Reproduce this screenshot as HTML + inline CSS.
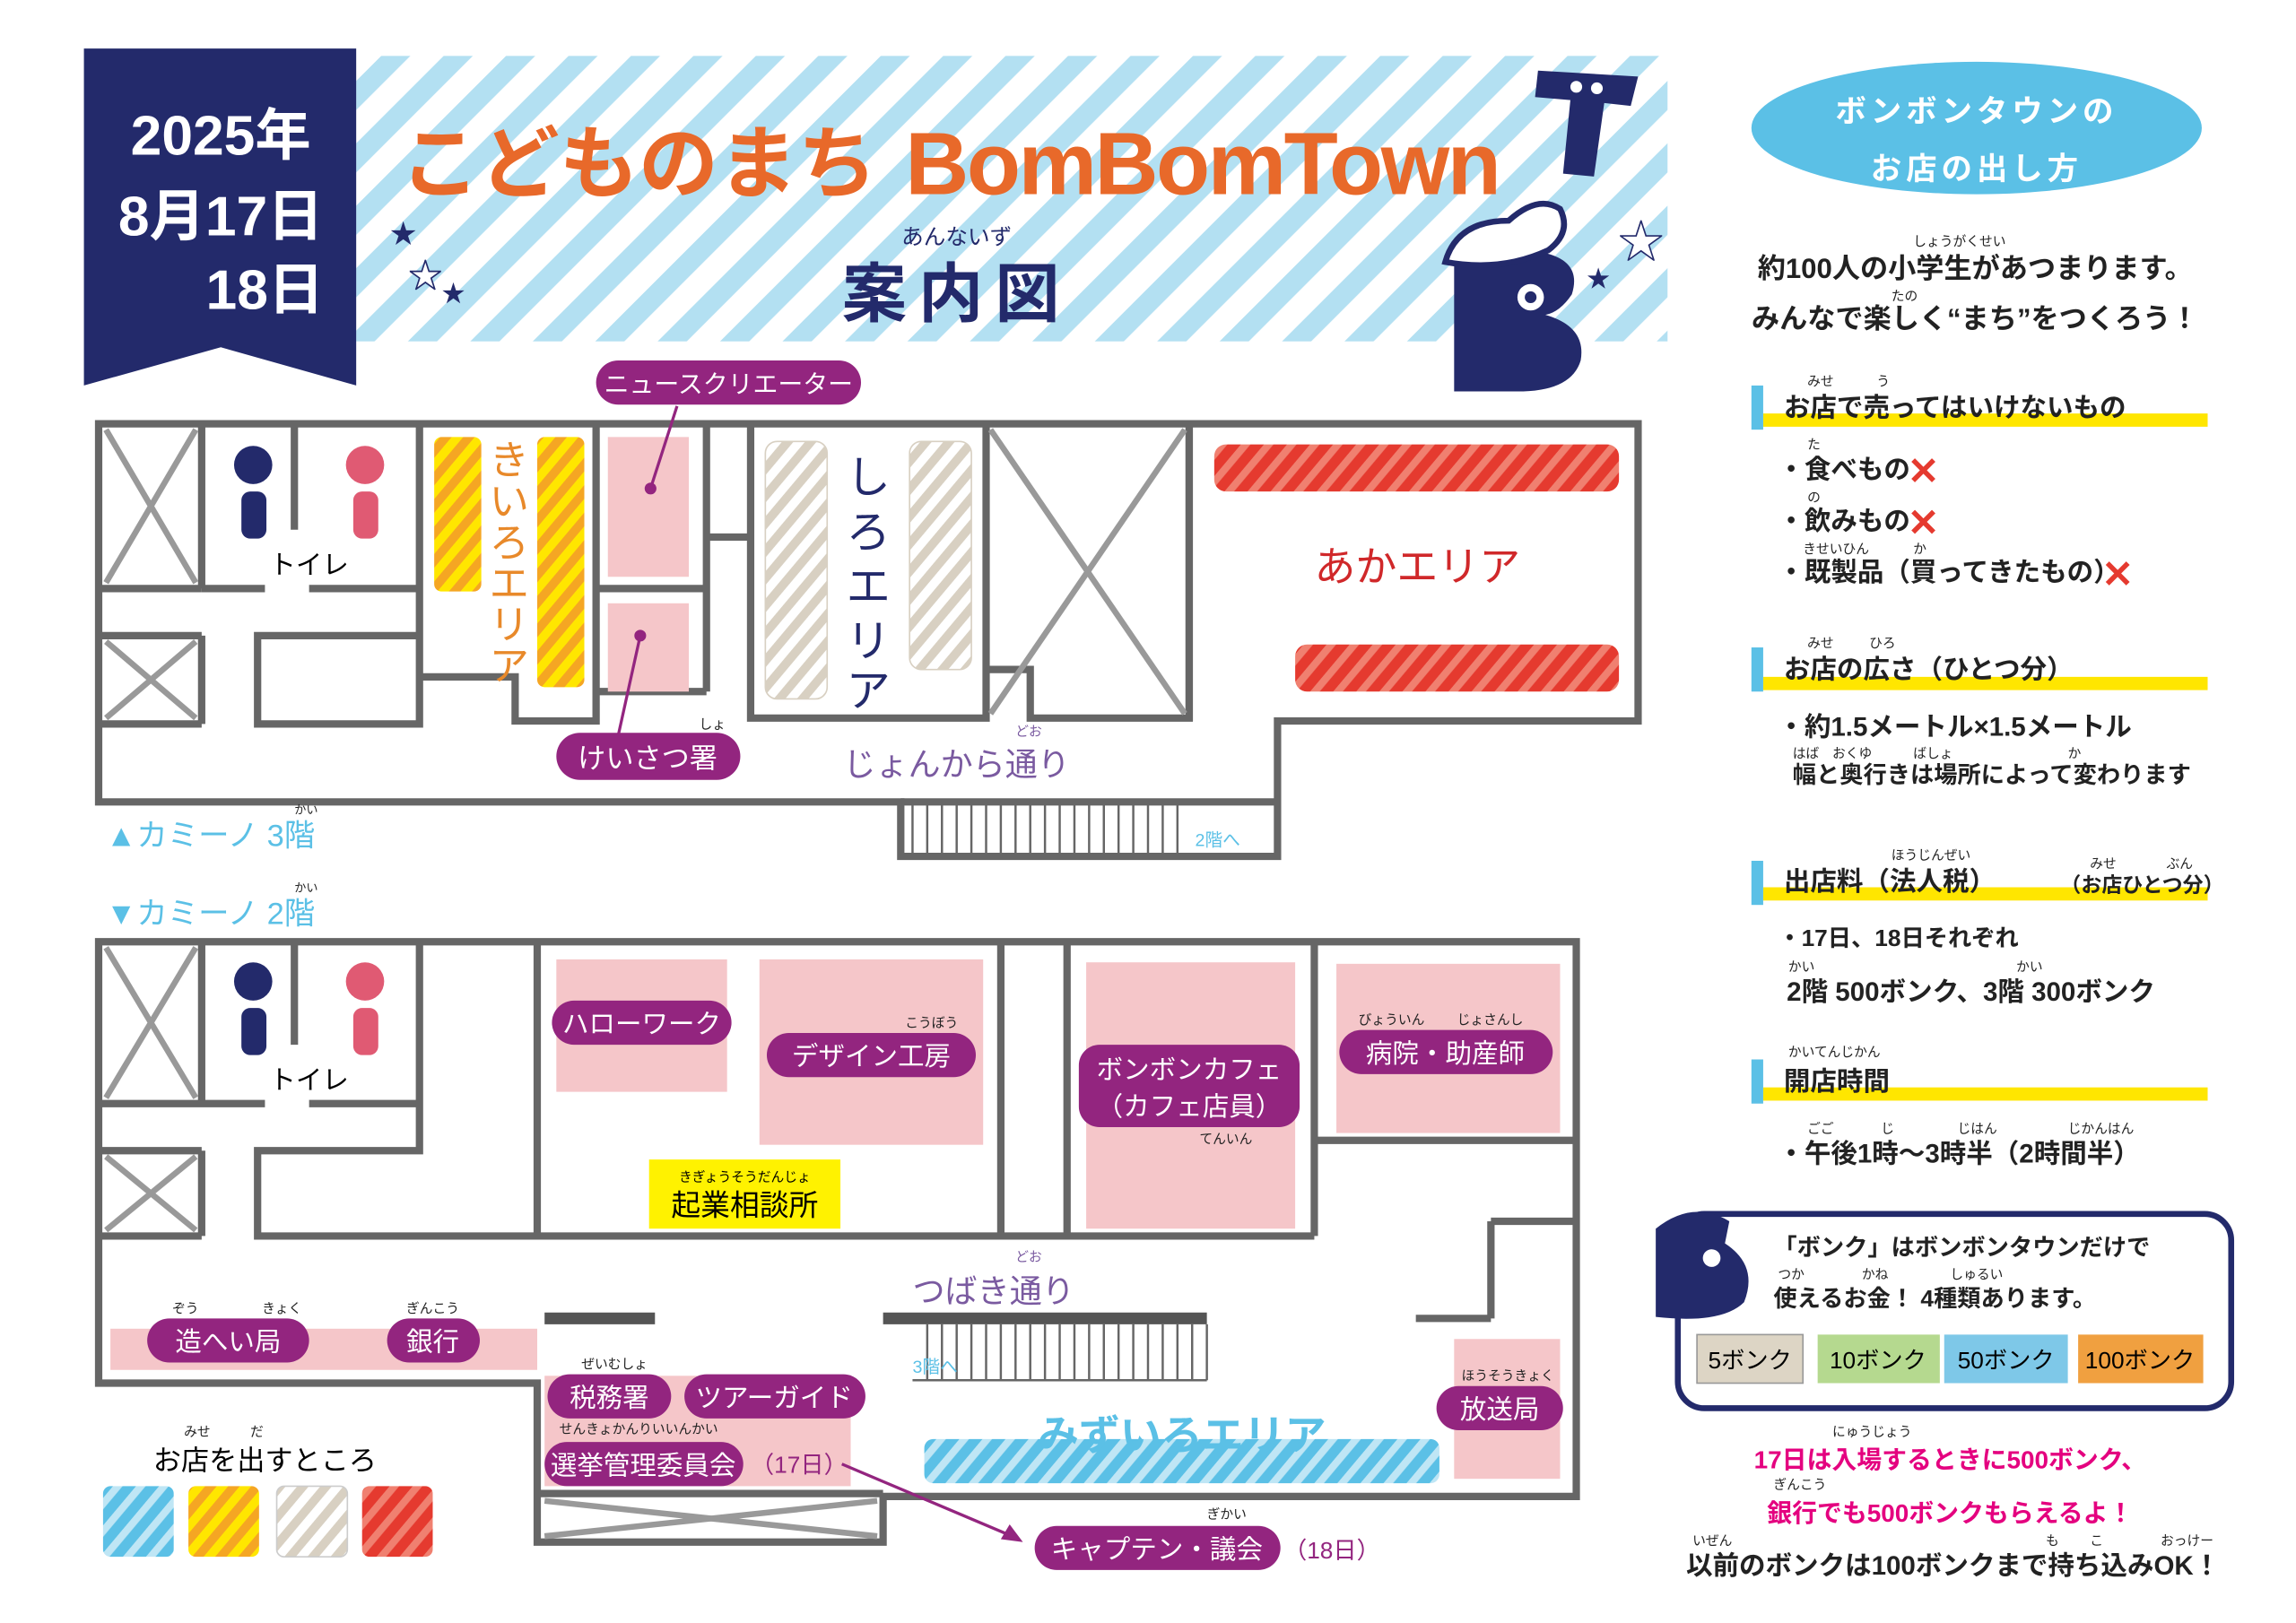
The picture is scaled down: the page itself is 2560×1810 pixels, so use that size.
<!DOCTYPE html>
<html><head><meta charset="utf-8"><style>
html,body{margin:0;padding:0;background:#fff;}
svg{display:block;}
text{font-family:"Liberation Sans","Noto Sans CJK JP",sans-serif;}
</style></head><body>
<svg width="2560" height="1810" viewBox="0 0 1560 1103" xmlns="http://www.w3.org/2000/svg">
<defs>
<pattern id="hs" width="30" height="30" patternUnits="userSpaceOnUse" patternTransform="rotate(45)"><rect width="30" height="30" fill="#fff"/><rect width="14" height="30" fill="#b3e0f2"/></pattern>
<pattern id="py" width="12" height="12" patternUnits="userSpaceOnUse" patternTransform="rotate(40)"><rect width="12" height="12" fill="#ffe600"/><rect width="6" height="12" fill="#f5a623"/></pattern>
<pattern id="pw" width="12" height="12" patternUnits="userSpaceOnUse" patternTransform="rotate(40)"><rect width="12" height="12" fill="#fff"/><rect width="6" height="12" fill="#d8d0c2"/></pattern>
<pattern id="pr" width="12" height="12" patternUnits="userSpaceOnUse" patternTransform="rotate(40)"><rect width="12" height="12" fill="#e53a2f"/><rect width="5" height="12" fill="#f08070"/></pattern>
<pattern id="pb" width="12" height="12" patternUnits="userSpaceOnUse" patternTransform="rotate(40)"><rect width="12" height="12" fill="#5bc0e6"/><rect width="5" height="12" fill="#bfe6f5"/></pattern>
</defs>

<!-- header -->
<rect x="242" y="38" width="891" height="194" fill="url(#hs)"/>
<polygon points="57,33 242,33 242,262 150,236 57,262" fill="#232a6b"/>
<text x="150" y="105" font-size="38" fill="#fff" text-anchor="middle" font-weight="bold">2025年</text>
<text x="150" y="160" font-size="38" fill="#fff" text-anchor="middle" font-weight="bold">8月17日</text>
<text x="180" y="210" font-size="38" fill="#fff" text-anchor="middle" font-weight="bold">18日</text>
<text x="272" y="130" font-size="54" fill="#e8692a" font-weight="bold">こどものまち</text>
<text x="615" y="132" font-size="60" fill="#e8692a" font-weight="bold" font-family="Liberation Sans" textLength="405">BomBomTown</text>
<text x="650" y="166" font-size="15" fill="#232a6b" text-anchor="middle">あんないず</text>
<text x="650" y="215" font-size="44" fill="#232a6b" text-anchor="middle" font-weight="bold" letter-spacing="8">案内図</text>
<text x="265" y="165" font-size="18" fill="#232a6b">★</text><text x="278" y="195" font-size="22" fill="#fff" stroke="#232a6b" stroke-width="1">★</text><text x="300" y="205" font-size="16" fill="#232a6b">★</text>
<text x="1100" y="175" font-size="30" fill="#fff" stroke="#232a6b" stroke-width="1">★</text><text x="1078" y="195" font-size="16" fill="#232a6b">★</text>
<!-- T -->
<path d="M1045 48 L1113 52 L1108 72 L1090 70 L1083 120 L1062 118 L1067 68 L1043 66 Z" fill="#232a6b"/>
<circle cx="1071" cy="59" r="4" fill="#fff"/><circle cx="1085" cy="60" r="4" fill="#fff"/>
<!-- B -->
<path d="M988 180 L1050 172 Q1075 178 1068 200 Q1060 212 1050 214 Q1078 222 1074 245 Q1068 265 1035 266 L988 266 Z" fill="#232a6b"/>
<path d="M982 178 Q990 150 1025 150 Q1045 132 1060 142 Q1068 158 1052 170 Q1020 185 982 178 Z" fill="#fff" stroke="#232a6b" stroke-width="4"/>
<circle cx="1040" cy="202" r="9" fill="#fff"/><circle cx="1040" cy="202" r="4" fill="#232a6b"/>

<!-- right panel -->
<ellipse cx="1343" cy="87" rx="153" ry="45" fill="#5bc0e6"/>
<text x="1343" y="83" font-size="21" fill="#fff" text-anchor="middle" font-weight="bold" letter-spacing="3">ボンボンタウンの</text>
<text x="1343" y="122" font-size="21" fill="#fff" text-anchor="middle" font-weight="bold" letter-spacing="3">お店の出し方</text>
<g font-size="9" fill="#222"><text x="1300" y="167">しょうがくせい</text><text x="1285" y="204">たの</text></g>
<g font-size="19" fill="#222" font-weight="bold">
<text x="1342" y="189" text-anchor="middle">約100人の小学生があつまります。</text>
<text x="1342" y="223" text-anchor="middle">みんなで楽しく“まち”をつくろう！</text>
</g>
<g fill="#ffe600"><rect x="1198" y="281" width="302" height="9"/><rect x="1198" y="460" width="302" height="9"/><rect x="1198" y="603" width="302" height="9"/><rect x="1198" y="739" width="302" height="9"/></g>
<g fill="#5bc0e6"><rect x="1190" y="262" width="8" height="30"/><rect x="1190" y="440" width="8" height="30"/><rect x="1190" y="585" width="8" height="30"/><rect x="1190" y="720" width="8" height="30"/></g>
<g font-size="9" fill="#222"><text x="1228" y="262">みせ</text><text x="1275" y="262">う</text><text x="1228" y="305">た</text><text x="1228" y="341">の</text><text x="1225" y="376">きせいひん</text><text x="1300" y="376">か</text><text x="1228" y="440">みせ</text><text x="1270" y="440">ひろ</text><text x="1218" y="515">はば</text><text x="1245" y="515">おくゆ</text><text x="1300" y="515">ばしょ</text><text x="1405" y="515">か</text><text x="1285" y="584">ほうじんぜい</text><text x="1420" y="590">みせ</text><text x="1472" y="590">ぶん</text><text x="1215" y="660">かい</text><text x="1370" y="660">かい</text><text x="1215" y="718">かいてんじかん</text><text x="1228" y="770">ごご</text><text x="1278" y="770">じ</text><text x="1330" y="770">じはん</text><text x="1405" y="770">じかんはん</text></g>
<g font-size="18" fill="#222" font-weight="bold">
<text x="1212" y="283">お店で売ってはいけないもの</text>
<text x="1208" y="325">・食べもの</text><text x="1208" y="360">・飲みもの</text><text x="1208" y="395">・既製品（買ってきたもの）</text>
<text x="1212" y="461">お店の広さ（ひとつ分）</text>
<text x="1208" y="500">・約1.5メートル×1.5メートル</text>
<text x="1218" y="532" font-size="16">幅と奥行きは場所によって変わります</text>
<text x="1212" y="605">出店料（法人税）</text><text x="1400" y="606" font-size="14">（お店ひとつ分）</text>
<text x="1208" y="643" font-size="16">・17日、18日それぞれ</text>
<text x="1214" y="680">2階 500ボンク、3階 300ボンク</text>
<text x="1212" y="741">開店時間</text>
<text x="1208" y="790">・午後1時～3時半（2時間半）</text>
</g>
<g fill="#e53a2f" font-size="26" font-weight="bold"><text x="1296" y="329">✕</text><text x="1296" y="364">✕</text><text x="1428" y="399">✕</text></g>
<rect x="1140" y="825" width="376" height="132" rx="18" fill="#fff" stroke="#232a6b" stroke-width="4"/>
<path d="M1125 835 Q1150 815 1175 830 L1172 845 Q1195 860 1185 885 Q1170 900 1125 895 Z" fill="#232a6b"/>
<circle cx="1163" cy="855" r="6" fill="#fff"/>
<g font-size="9" fill="#222"><text x="1208" y="869">つか</text><text x="1265" y="869">かね</text><text x="1325" y="869">しゅるい</text></g>
<text x="1205" y="853" font-size="16" fill="#222" font-weight="bold">「ボンク」はボンボンタウンだけで</text>
<text x="1205" y="888" font-size="16" fill="#222" font-weight="bold">使えるお金！ 4種類あります。</text>
<rect x="1153" y="907" width="72" height="33" fill="#ddd5c5" stroke="#999"/><text x="1189" y="930" font-size="16" text-anchor="middle">5ボンク</text>
<rect x="1235" y="907" width="83" height="33" fill="#b5d98f"/><text x="1276" y="930" font-size="16" text-anchor="middle">10ボンク</text>
<rect x="1321" y="907" width="84" height="33" fill="#7ec8e8"/><text x="1363" y="930" font-size="16" text-anchor="middle">50ボンク</text>
<rect x="1412" y="907" width="85" height="33" fill="#f0a040"/><text x="1454" y="930" font-size="16" text-anchor="middle">100ボンク</text>
<g font-size="9" fill="#222"><text x="1245" y="976">にゅうじょう</text><text x="1205" y="1012">ぎんこう</text><text x="1150" y="1050">いぜん</text><text x="1390" y="1050">も</text><text x="1420" y="1050">こ</text><text x="1468" y="1050">おっけー</text></g>
<text x="1325" y="998" font-size="17" fill="#e4007f" text-anchor="middle" font-weight="bold">17日は入場するときに500ボンク、</text>
<text x="1325" y="1034" font-size="17" fill="#e4007f" text-anchor="middle" font-weight="bold">銀行でも500ボンクもらえるよ！</text>
<text x="1327" y="1070" font-size="18" fill="#222" text-anchor="middle" font-weight="bold">以前のボンクは100ボンクまで持ち込みOK！</text>

<!-- 3F -->
<g fill="none" stroke="#666" stroke-width="5">
<path d="M67 288 H1113 V490 H868 V582 H612 V545 H67 Z"/>
<path d="M137 288 V400 M137 432 V492 M67 400 H137 M67 432 H137 M67 492 H137"/>
<path d="M137 400 H180 M210 400 H285 M285 288 V490 M175 432 H285 V492 H175 Z"/>
<path d="M200 288 V360"/>
<path d="M287 460 H350 V490 H405 V288 M405 470 H480 M405 400 H480 M480 288 V470 M480 365 H510 M510 288 V488 H670 V455 H700 V488 H808 V288 M670 288 V488"/>
<path d="M808 288 V490 M612 545 H868"/>
</g>
<g stroke="#999" stroke-width="4"><line x1="72" y1="292" x2="133" y2="396"/><line x1="133" y1="292" x2="72" y2="396"/><line x1="72" y1="436" x2="133" y2="488"/><line x1="133" y1="436" x2="72" y2="488"/><line x1="673" y1="292" x2="805" y2="485"/><line x1="805" y1="292" x2="673" y2="485"/></g>
<g stroke="#666" stroke-width="1.5">
<path d="M620 545 V580 M630 545 V580 M640 545 V580 M650 545 V580 M660 545 V580 M670 545 V580 M680 545 V580 M690 545 V580 M700 545 V580 M710 545 V580 M720 545 V580 M730 545 V580 M740 545 V580 M750 545 V580 M760 545 V580 M770 545 V580 M780 545 V580 M790 545 V580 M800 545 V580"/></g>
<rect x="295" y="297" width="32" height="105" rx="5" fill="url(#py)"/>
<rect x="365" y="297" width="32" height="170" rx="5" fill="url(#py)"/>
<rect x="413" y="297" width="55" height="95" fill="#f5c6c9"/><rect x="413" y="410" width="55" height="60" fill="#f5c6c9"/>
<rect x="520" y="300" width="42" height="175" rx="8" fill="url(#pw)" stroke="#d8d0c2"/>
<rect x="618" y="300" width="42" height="155" rx="8" fill="url(#pw)" stroke="#d8d0c2"/>
<rect x="825" y="302" width="275" height="32" rx="8" fill="url(#pr)"/>
<rect x="880" y="438" width="220" height="32" rx="8" fill="url(#pr)"/>
<!-- toilets -->
<circle cx="172" cy="316" r="13" fill="#232a6b"/><rect x="164" y="334" width="17" height="32" rx="6" fill="#232a6b"/>
<circle cx="248" cy="316" r="13" fill="#e05a73"/><rect x="240" y="334" width="17" height="32" rx="6" fill="#e05a73"/>
<text x="210" y="390" font-size="18" text-anchor="middle">トイレ</text>
<g font-size="27" fill="#e8892a" text-anchor="middle"><text x="346" y="322">き</text><text x="346" y="350">い</text><text x="346" y="378">ろ</text><text x="346" y="406">エ</text><text x="346" y="434">リ</text><text x="346" y="462">ア</text></g>
<g font-size="30" fill="#232a6b" text-anchor="middle"><text x="590" y="335">し</text><text x="590" y="372">ろ</text><text x="590" y="409">エ</text><text x="590" y="446">リ</text><text x="590" y="480">ア</text></g>
<text x="963" y="395" font-size="28" fill="#d0282a" text-anchor="middle">あかエリア</text>
<text x="690" y="500" font-size="9" fill="#7a5aa0">どお</text>
<text x="650" y="527" font-size="22" fill="#7a5aa0" text-anchor="middle">じょんから通り</text>
<text x="812" y="575" font-size="12" fill="#5bc0e6">2階へ</text>
<!-- labels 3F -->
<line x1="460" y1="276" x2="442" y2="332" stroke="#93257f" stroke-width="2"/><circle cx="442" cy="332" r="4" fill="#93257f"/>
<line x1="435" y1="432" x2="420" y2="500" stroke="#93257f" stroke-width="2"/><circle cx="435" cy="432" r="4" fill="#93257f"/>
<rect x="405" y="245" width="180" height="30" rx="15" fill="#93257f"/><text x="495" y="267" font-size="17" fill="#fff" text-anchor="middle">ニュースクリエーター</text>
<text x="475" y="495" font-size="9" fill="#222">しょ</text>
<rect x="378" y="498" width="125" height="32" rx="16" fill="#93257f"/><text x="440" y="522" font-size="19" fill="#fff" text-anchor="middle">けいさつ署</text>
<text x="200" y="553" font-size="8" fill="#222">かい</text>
<text x="72" y="575" font-size="21" fill="#5bc0e6">▲カミーノ 3階</text>
<text x="200" y="606" font-size="8" fill="#222">かい</text>
<text x="72" y="628" font-size="21" fill="#5bc0e6">▼カミーノ 2階</text>

<!-- 2F -->
<rect x="378" y="652" width="116" height="90" fill="#f5c6c9"/>
<rect x="516" y="652" width="152" height="126" fill="#f5c6c9"/>
<rect x="738" y="654" width="142" height="181" fill="#f5c6c9"/>
<rect x="908" y="655" width="152" height="115" fill="#f5c6c9"/>
<rect x="441" y="788" width="130" height="47" fill="#fff200"/>
<rect x="75" y="903" width="290" height="28" fill="#f5c6c9"/>
<rect x="370" y="935" width="208" height="75" fill="#f5c6c9"/>
<rect x="988" y="910" width="72" height="95" fill="#f5c6c9"/>
<rect x="628" y="978" width="350" height="30" rx="6" fill="url(#pb)"/>
<g fill="none" stroke="#666" stroke-width="5">
<path d="M67 640 H1071 V1017 H600 V1048 H365 V940 H67 Z"/>
<path d="M137 640 V750 M67 750 H137 M67 782 H137 M67 840 H137 M137 782 V840 M137 750 H180 M210 750 H285 V782 H175 V840 H365 M285 640 V750 M200 640 V710"/>
<path d="M365 640 V840 H893 M680 640 V840 M725 640 V840 M893 640 V840 M893 775 H1071 M1013 830 H1071 M1013 830 V896 M1013 896 H962"/>
<path d="M365 1015 H600"/>
</g>
<g stroke="#555" stroke-width="8"><line x1="370" y1="896" x2="445" y2="896"/><line x1="600" y1="896" x2="820" y2="896"/></g>
<g stroke="#999" stroke-width="4"><line x1="72" y1="644" x2="133" y2="746"/><line x1="133" y1="644" x2="72" y2="746"/><line x1="72" y1="786" x2="133" y2="836"/><line x1="133" y1="786" x2="72" y2="836"/><line x1="370" y1="1020" x2="596" y2="1044"/><line x1="596" y1="1020" x2="370" y2="1044"/></g>
<g stroke="#666" stroke-width="1.5"><path d="M630 900 V938 M640 900 V938 M650 900 V938 M660 900 V938 M670 900 V938 M680 900 V938 M690 900 V938 M700 900 V938 M710 900 V938 M720 900 V938 M730 900 V938 M740 900 V938 M750 900 V938 M760 900 V938 M770 900 V938 M780 900 V938 M790 900 V938 M800 900 V938 M810 900 V938 M820 900 V938 M620 938 H820"/></g>
<circle cx="172" cy="667" r="13" fill="#232a6b"/><rect x="164" y="685" width="17" height="32" rx="6" fill="#232a6b"/>
<circle cx="248" cy="667" r="13" fill="#e05a73"/><rect x="240" y="685" width="17" height="32" rx="6" fill="#e05a73"/>
<text x="210" y="740" font-size="18" text-anchor="middle">トイレ</text>
<text x="690" y="857" font-size="9" fill="#7a5aa0">どお</text>
<text x="675" y="885" font-size="22" fill="#7a5aa0" text-anchor="middle">つばき通り</text>
<text x="620" y="933" font-size="12" fill="#5bc0e6">3階へ</text>
<text x="803" y="985" font-size="28" fill="#5bc0e6" text-anchor="middle" font-weight="bold">みずいろエリア</text>
<text x="506" y="803" font-size="9" text-anchor="middle">きぎょうそうだんじょ</text>
<text x="506" y="826" font-size="20" text-anchor="middle">起業相談所</text>
<g font-size="9" fill="#222"><text x="615" y="698">こうぼう</text><text x="923" y="696">びょういん</text><text x="990" y="696">じょさんし</text><text x="815" y="777">てんいん</text><text x="117" y="892">ぞう</text><text x="178" y="892">きょく</text><text x="276" y="892">ぎんこう</text><text x="395" y="930">ぜいむしょ</text><text x="380" y="974">せんきょかんりいいんかい</text><text x="993" y="938">ほうそうきょく</text><text x="820" y="1032">ぎかい</text><text x="125" y="976">みせ</text><text x="170" y="976">だ</text></g>
<g fill="#93257f">
<rect x="375" y="680" width="122" height="30" rx="15"/><rect x="521" y="702" width="142" height="30" rx="15"/>
<rect x="733" y="710" width="150" height="56" rx="14"/><rect x="910" y="700" width="145" height="30" rx="15"/>
<rect x="100" y="896" width="110" height="30" rx="15"/><rect x="263" y="896" width="63" height="30" rx="15"/>
<rect x="372" y="934" width="84" height="30" rx="15"/><rect x="465" y="934" width="123" height="30" rx="15"/>
<rect x="370" y="980" width="135" height="30" rx="15"/><rect x="976" y="942" width="86" height="30" rx="15"/>
<rect x="703" y="1037" width="167" height="30" rx="15"/>
</g>
<g fill="#fff" font-size="18" text-anchor="middle">
<text x="436" y="702">ハローワーク</text><text x="592" y="724">デザイン工房</text>
<text x="808" y="733">ボンボンカフェ</text><text x="808" y="758">（カフェ店員）</text>
<text x="982" y="722">病院・助産師</text><text x="155" y="918">造へい局</text><text x="294" y="918">銀行</text>
<text x="414" y="956">税務署</text><text x="526" y="956">ツアーガイド</text><text x="437" y="1002">選挙管理委員会</text>
<text x="1019" y="964">放送局</text><text x="786" y="1059">キャプテン・議会</text>
</g>
<text x="510" y="1001" font-size="16" fill="#93257f">（17日）</text>
<text x="872" y="1059" font-size="16" fill="#93257f">（18日）</text>
<line x1="572" y1="995" x2="690" y2="1045" stroke="#93257f" stroke-width="2"/><polygon points="695,1048 680,1046 686,1036" fill="#93257f"/>
<text x="180" y="999" font-size="19" text-anchor="middle">お店を出すところ</text>
<rect x="70" y="1010" width="48" height="48" rx="5" fill="url(#pb)"/>
<rect x="128" y="1010" width="48" height="48" rx="5" fill="url(#py)"/>
<rect x="188" y="1010" width="48" height="48" rx="5" fill="url(#pw)" stroke="#ccc"/>
<rect x="246" y="1010" width="48" height="48" rx="5" fill="url(#pr)"/>
</svg>
</body></html>
